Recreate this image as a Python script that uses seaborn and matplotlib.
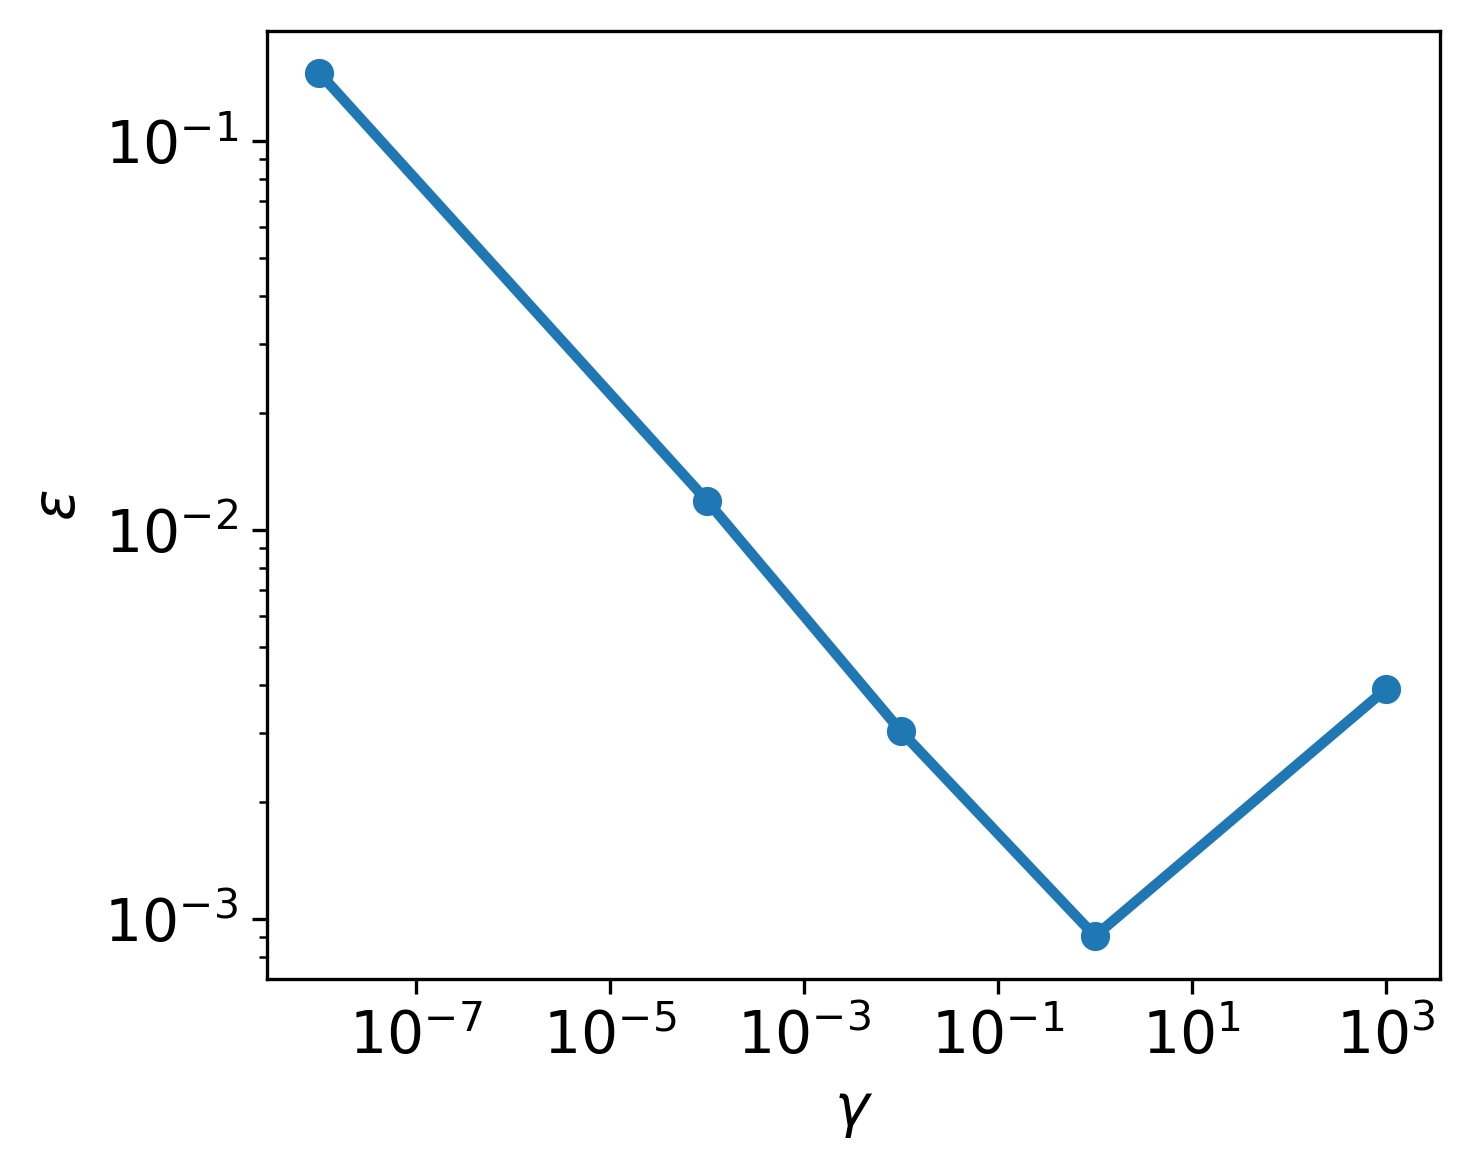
import pandas as pd
import matplotlib
matplotlib.use("Agg")
import matplotlib.pyplot as plt
import seaborn as sns

# gamma values and the error measured at each
gamma = [1e-8, 1e-4, 1e-2, 1e0, 1e3]
eps = [0.150, 0.0119, 0.00304, 0.000904, 0.0039]

df = pd.DataFrame({"gamma": gamma, "eps": eps})

fig = plt.figure(figsize=(4.9, 3.9), dpi=300)
ax = fig.add_axes([267 / 1470, 1 - 979 / 1170, (1440 - 267) / 1470, (979 - 31) / 1170])

sns.lineplot(data=df, x="gamma", y="eps", marker="o", color="#1f77b4",
             linewidth=2.5, markersize=7, markeredgewidth=0, ax=ax)
ax.set_xscale("log")
ax.set_yscale("log")
ax.set_xlim(10 ** -8.536, 10 ** 3.557)
ax.set_ylim(10 ** -3.154, 10 ** -0.717)
ax.set_xticks([1e-7, 1e-5, 1e-3, 1e-1, 1e1, 1e3])
ax.tick_params(axis="x", which="minor", bottom=False)

ax.set_xlabel(r"$\gamma$", fontsize=14)
ax.set_ylabel(r"$\varepsilon$", fontsize=14)
ax.tick_params(labelsize=14)

fig.savefig("out.png", dpi=300)
